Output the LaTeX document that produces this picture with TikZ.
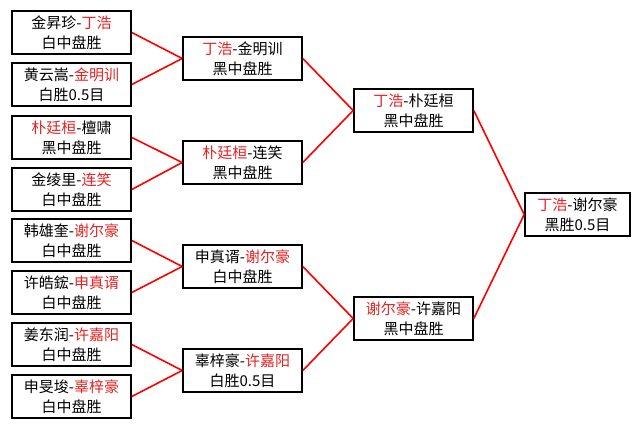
\documentclass[tikz,border=0pt]{standalone}
\usepackage{fontspec}
\setmainfont{Noto Sans CJK SC}
\definecolor{winred}{RGB}{230,34,34}
\newcommand{\win}[1]{\textcolor{winred}{#1}}

\begin{document}
\begin{tikzpicture}[x=1pt,y=-1pt]
		\useasboundingbox (0,0) rectangle (641,429);
		\begin{scope}[every node/.style={rectangle,draw=black,line width=1.6pt,
			minimum width=119pt,minimum height=43pt,inner sep=0pt,align=center,
			font=\fontsize{15}{20}\selectfont}]
			% first round
			\node (a1) at (71.5,32.5) {金昇珍-\win{丁浩}\\白中盘胜};
			\node (a2) at (71.5,84.5) {黄云嵩-\win{金明训}\\白胜0.5目};
			\node (a3) at (71.5,137.5) {\win{朴廷桓}-檀啸\\黑中盘胜};
			\node (a4) at (71.5,189.5) {金绫里-\win{连笑}\\白中盘胜};
			\node (a5) at (71.5,240.5) {韩雄奎-\win{谢尔豪}\\白中盘胜};
			\node (a6) at (71.5,292.5) {许皓鋐-\win{申真谞}\\白中盘胜};
			\node (a7) at (71.5,344.5) {姜东润-\win{许嘉阳}\\白中盘胜};
			\node (a8) at (71.5,396.5) {申旻埈-\win{辜梓豪}\\白中盘胜};
			% quarter finals
			\node (b1) at (242.5,58.5) {\win{丁浩}-金明训\\黑中盘胜};
			\node (b2) at (242.5,162.5) {\win{朴廷桓}-连笑\\黑中盘胜};
			\node (b3) at (242.5,266.5) {申真谞-\win{谢尔豪}\\白中盘胜};
			\node (b4) at (242.5,370.5) {辜梓豪-\win{许嘉阳}\\白胜0.5目};
			% semi finals
			\node (c1) at (413.5,110.5) {\win{丁浩}-朴廷桓\\黑中盘胜};
			\node (c2) at (413.5,318.5) {\win{谢尔豪}-许嘉阳\\黑中盘胜};
			% final
			\node[minimum width=105pt] (d1) at (577.5,214.5) {\win{丁浩}-谢尔豪\\黑胜0.5目};
		\end{scope}
		\begin{scope}[every edge/.style={draw=red,line width=1.6pt}]
			\path (a1.east) edge (b1.west);
			\path (a2.east) edge (b1.west);
			\path (a3.east) edge (b2.west);
			\path (a4.east) edge (b2.west);
			\path (a5.east) edge (b3.west);
			\path (a6.east) edge (b3.west);
			\path (a7.east) edge (b4.west);
			\path (a8.east) edge (b4.west);
			\path (b1.east) edge (c1.west);
			\path (b2.east) edge (c1.west);
			\path (b3.east) edge (c2.west);
			\path (b4.east) edge (c2.west);
			\path (c1.east) edge (d1.west);
			\path (c2.east) edge (d1.west);
		\end{scope}
	\end{tikzpicture}
\end{document}
